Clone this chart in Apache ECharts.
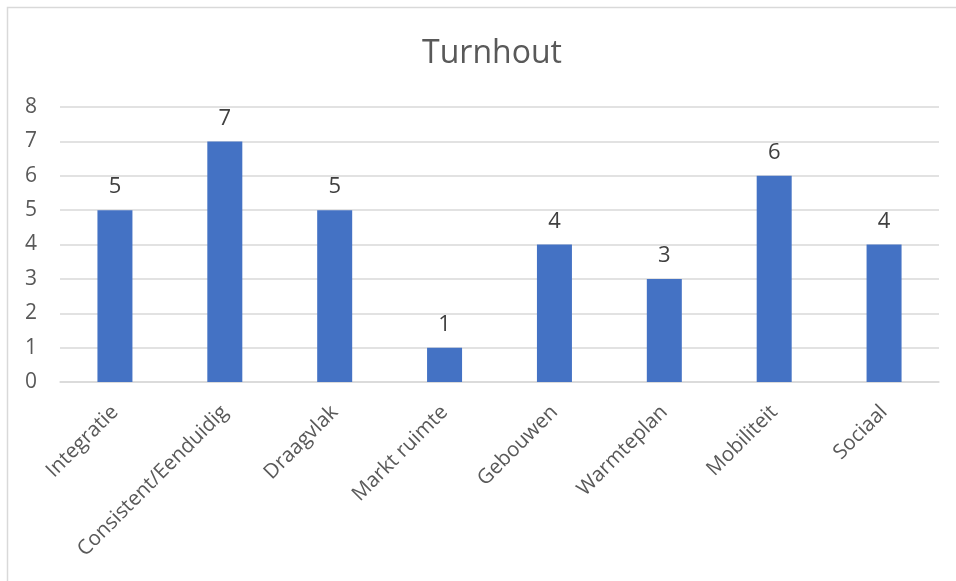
<!DOCTYPE html>
<html><head><meta charset="utf-8">
<script src="https://cdn.jsdelivr.net/npm/echarts@6/dist/echarts.min.js"></script>
<style>html,body{margin:0;padding:0;background:#fff}#c{width:956px;height:581px}</style>
</head><body><div id="c"></div>
<script>
var title = 'Turnhout';
var categories = ['Integratie','Consistent/Eenduidig','Draagvlak','Markt ruimte','Gebouwen','Warmteplan','Mobiliteit','Sociaal'];
var values = [5,7,5,1,4,3,6,4];
var yTicks = {min:0, max:8, interval:1};

var chart = echarts.init(document.getElementById('c'), null, {renderer:'canvas'});
var font = '"Open Sans", sans-serif';
chart.setOption({
  animation:false,
  backgroundColor:'#fff',
  graphic:[{type:'rect', shape:{x:7.5,y:7.5,width:1000,height:1000}, style:{fill:'none', stroke:'#d9d9d9', lineWidth:1.5}, silent:true}],
  title:{text:title, left:487, top:33, textAlign:'center', textStyle:{fontFamily:font, fontSize:32, fontWeight:'normal', color:'#595959'}},
  grid:{left:60, right:17, top:107, bottom:199, containLabel:false},
  xAxis:{type:'category', data:categories,
    axisLine:{show:true, lineStyle:{color:'#d9d9d9', width:1.5}},
    axisTick:{show:false},
    axisLabel:{rotate:45, interval:0, margin:27, fontFamily:font, fontSize:20.5, color:'#595959'}},
  yAxis:{type:'value', min:yTicks.min, max:yTicks.max, interval:yTicks.interval,
    axisLine:{show:false}, axisTick:{show:false},
    splitLine:{lineStyle:{color:'#d9d9d9', width:1.5}},
    axisLabel:{margin:23, fontFamily:font, fontSize:21, color:'#595959'}},
  series:[{type:'bar', data:values, barWidth:35,
    itemStyle:{color:'#4472c4'},
    label:{show:true, position:'top', distance:12, fontFamily:font, fontSize:22, color:'#404040'}}]
});
</script></body></html>
